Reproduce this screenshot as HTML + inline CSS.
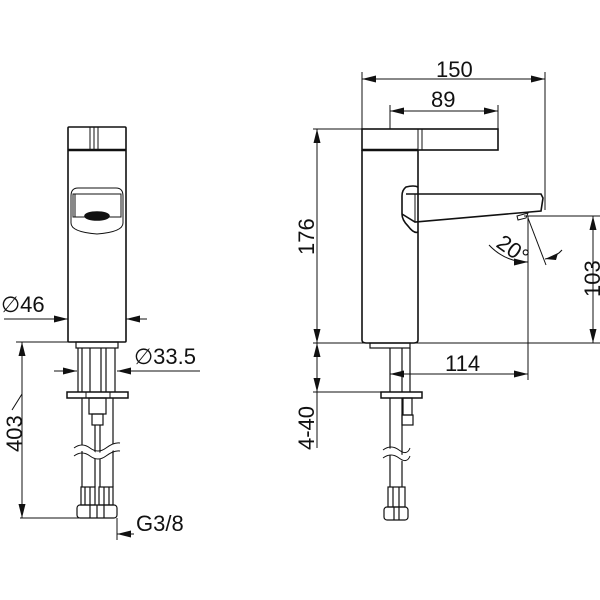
<!DOCTYPE html>
<html><head><style>html,body{margin:0;padding:0;background:#fff}svg{display:block}text{font-family:"Liberation Sans",sans-serif;fill:#111}</style></head>
<body>
<svg width="600" height="600" viewBox="0 0 600 600" xmlns="http://www.w3.org/2000/svg">
<g stroke="#111" fill="none" stroke-width="1.6">
<!-- LEFT VIEW -->
<rect x="68" y="127" width="58" height="215" rx="1"/>
<line x1="68" y1="150" x2="126" y2="150" stroke-width="2.5"/>
<line x1="90" y1="127" x2="90" y2="150" stroke-width="1"/><line x1="94" y1="127" x2="94" y2="150" stroke-width="1"/><line x1="98" y1="127" x2="98" y2="150" stroke-width="1"/>
<path d="M78,188 H116 Q123,188 123,196 V223 Q123,232 97,234 Q71,232 71,223 V196 Q71,188 78,188Z" stroke-width="1"/>
<path d="M73,194 H121 V217 H73Z" stroke-width="1"/>
<line x1="75" y1="194" x2="75" y2="217" stroke-width="1"/>
<ellipse cx="97" cy="216" rx="12" ry="4" fill="#111"/>
<g stroke-width="1">
<line x1="4" y1="319" x2="68" y2="319"/><line x1="126" y1="319" x2="147" y2="319"/>
<line x1="16" y1="342" x2="68" y2="342"/>
<line x1="22" y1="342" x2="22" y2="518"/>
<line x1="22" y1="394" x2="12" y2="410"/>
<line x1="20" y1="518" x2="80" y2="518"/>
<line x1="54" y1="371" x2="77" y2="371"/><line x1="117" y1="371" x2="200" y2="371"/>
<line x1="117" y1="518" x2="117" y2="540"/>
<line x1="117" y1="534" x2="134" y2="534"/>
</g>
<rect x="76" y="342" width="42" height="6" stroke-width="1.2"/>
<g stroke-width="1.2">
<line x1="78" y1="348" x2="78" y2="392"/><line x1="82" y1="348" x2="82" y2="392"/><line x1="90" y1="348" x2="90" y2="392"/>
<line x1="101" y1="348" x2="101" y2="392"/><line x1="106" y1="348" x2="106" y2="392"/><line x1="115" y1="348" x2="115" y2="392"/>
</g>
<rect x="67" y="392" width="61" height="6" stroke-width="1.5"/>
<line x1="86" y1="392" x2="86" y2="398" stroke-width="1"/><line x1="110" y1="392" x2="110" y2="398" stroke-width="1"/>
<g stroke-width="1.2">
<line x1="82" y1="398" x2="82" y2="487"/><line x1="113" y1="398" x2="113" y2="487"/>
<rect x="89" y="398" width="17" height="16"/><rect x="92" y="414" width="11" height="11"/>
<line x1="95" y1="425" x2="95" y2="487"/><line x1="100" y1="425" x2="100" y2="487"/>
</g>
<path d="M74,452 Q82,444 90,452 T106,452 T122,447" stroke="#fff" stroke-width="6"/>
<path d="M74,448 Q82,442 90,448 T106,448 T120,443 M74,456 Q82,450 90,456 T106,456 T120,451" stroke-width="1"/>
<g stroke-width="1.2">
<rect x="81" y="487" width="14" height="18"/><rect x="99" y="487" width="14" height="18"/>
<line x1="85" y1="487" x2="85" y2="505"/><line x1="90" y1="487" x2="90" y2="505"/><line x1="104" y1="487" x2="104" y2="505"/><line x1="109" y1="487" x2="109" y2="505"/>
<rect x="77" y="505" width="40" height="13" rx="3"/>
<line x1="90" y1="505" x2="90" y2="518"/><line x1="97" y1="505" x2="97" y2="518"/><line x1="104" y1="505" x2="104" y2="518"/>
</g>

<!-- RIGHT VIEW -->
<path d="M362,150 V340 Q362,343 366,343 H414 Q418,343 418,340 V150"/>
<rect x="362" y="129" width="136" height="21"/>
<line x1="362" y1="150" x2="418" y2="150" stroke-width="2.5"/>
<line x1="418" y1="129" x2="418" y2="150" stroke-width="1"/><line x1="422" y1="129" x2="422" y2="150" stroke-width="1"/>
<path d="M418,187 Q414,185 406,187 Q402,190 402,196 V214 Q402,220 408,226 Q414,234 418,232"/>
<path d="M406,194 H541 L543,198 L541,211 L415,222 L402,214"/>
<line x1="415" y1="194" x2="415" y2="222" stroke-width="1"/>
<path d="M517,216 L528,213 L526,218 L518,220Z" stroke-width="1"/>
<rect x="370" y="343" width="40" height="5" stroke-width="1.2"/>
<g stroke-width="1.2">
<line x1="390" y1="348" x2="390" y2="392"/><line x1="402" y1="348" x2="402" y2="392"/><line x1="410" y1="348" x2="410" y2="392"/>
</g>
<rect x="381" y="392" width="41" height="6" stroke-width="1.5"/>
<g stroke-width="1.2">
<line x1="390" y1="398" x2="390" y2="487"/><line x1="402" y1="398" x2="402" y2="487"/>
<rect x="403" y="398" width="9" height="17"/><rect x="402" y="415" width="11" height="10"/>
<rect x="388" y="487" width="17" height="20"/><line x1="393" y1="487" x2="393" y2="507"/><line x1="399" y1="487" x2="399" y2="507"/>
<rect x="384" y="507" width="24" height="13" rx="3"/><line x1="394" y1="507" x2="394" y2="520"/><line x1="399" y1="507" x2="399" y2="520"/>
</g>
<path d="M380,455 Q388,448 396,455 T412,452" stroke="#fff" stroke-width="6"/>
<path d="M383,450 Q391,444 399,450 T410,448 M383,458 Q391,452 399,458 T410,456" stroke-width="1"/>

<g stroke-width="1">
<line x1="362" y1="72" x2="362" y2="129"/><line x1="545" y1="72" x2="545" y2="210"/>
<line x1="362" y1="79" x2="545" y2="79"/>
<line x1="390" y1="105" x2="390" y2="129"/><line x1="498" y1="105" x2="498" y2="129"/>
<line x1="390" y1="111" x2="498" y2="111"/>
<line x1="313" y1="129" x2="362" y2="129"/><line x1="313" y1="343" x2="600" y2="343"/>
<line x1="317" y1="129" x2="317" y2="343"/>
<line x1="524" y1="216" x2="600" y2="216"/>
<line x1="593" y1="216" x2="593" y2="343"/>
<line x1="528" y1="216" x2="528" y2="380"/>
<line x1="528" y1="218" x2="546" y2="265"/>
<path d="M489,245 Q505,262 528,262"/>
<path d="M562,250 Q556,257 545,259"/>
<line x1="390" y1="374" x2="528" y2="374"/>
<line x1="313" y1="392" x2="382" y2="392"/>
<line x1="317" y1="343" x2="317" y2="448"/>
</g>
</g>
<!-- arrowheads -->
<g fill="#111">
<polygon points="54,315.5 68,319 54,322.5"/><polygon points="140,315.5 126,319 140,322.5"/>
<polygon points="18.5,356 22,342 25.5,356"/><polygon points="18.5,504 22,518 25.5,504"/>
<polygon points="63,367.5 77,371 63,374.5"/><polygon points="131,367.5 117,371 131,374.5"/>
<polygon points="131,530.5 117,534 131,537.5"/>
<polygon points="376,75.5 362,79 376,82.5"/><polygon points="531,75.5 545,79 531,82.5"/>
<polygon points="404,107.5 390,111 404,114.5"/><polygon points="484,107.5 498,111 484,114.5"/>
<polygon points="313.5,143 317,129 320.5,143"/><polygon points="313.5,329 317,343 320.5,329"/>
<polygon points="589.5,230 593,216 596.5,230"/><polygon points="589.5,329 593,343 596.5,329"/>
<polygon points="404,370.5 390,374 404,377.5"/><polygon points="514,370.5 528,374 514,377.5"/>
<polygon points="313.5,357 317,343 320.5,357"/><polygon points="313.5,378 317,392 320.5,378"/>
<polygon points="514,258.5 528,262 514,265.5"/><polygon points="558,253 545,259 556,260"/>
</g>
<g font-size="22">
<text x="1" y="312">∅46</text>
<text x="134" y="364">∅33.5</text>
<text x="136" y="531">G3/8</text>
<text transform="translate(22,452) rotate(-90)">403</text>
<text x="436" y="77">150</text>
<text x="431" y="107">89</text>
<text transform="translate(314,255) rotate(-90)">176</text>
<text transform="translate(600,297) rotate(-90)">103</text>
<text x="445" y="371">114</text>
<text transform="translate(314,450) rotate(-90)">4-40</text>
<text transform="translate(495,246) rotate(35)">20°</text>
</g>
</svg>
</body></html>
